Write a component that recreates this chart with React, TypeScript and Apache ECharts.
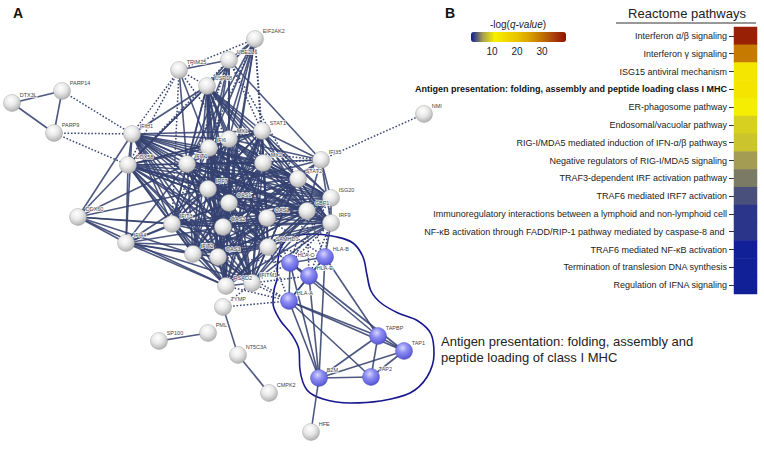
import React, { useEffect, useRef } from 'react';
import * as echarts from 'echarts';

// ---------- Panel A: STRING network ----------
// [gene, x, y, group]  group 1 = antigen presentation (class I MHC) module
const networkNodes: [string, number, number, number][] = [
  ['DTX3L', 12, 103, 0],
  ['PARP14', 62, 91, 0],
  ['PARP9', 54, 133, 0],
  ['IFIH1', 132, 134, 0],
  ['DDX58', 128, 165, 0],
  ['DDX60', 78, 217, 0],
  ['IFI44', 126, 243, 0],
  ['TRIM25', 179, 70, 0],
  ['UBE2L6', 229, 60, 0],
  ['USP18', 207, 86, 0],
  ['EIF2AK2', 255, 39, 0],
  ['STAT1', 262, 131, 0],
  ['MX1', 229, 139, 0],
  ['IFI6', 209, 148, 0],
  ['IFIT1', 187, 164, 0],
  ['MX2', 263, 163, 0],
  ['IFI35', 321, 160, 0],
  ['STAT2', 298, 179, 0],
  ['ISG20', 331, 198, 0],
  ['GBP1', 307, 211, 0],
  ['IRF9', 331, 223, 0],
  ['IRF7', 208, 189, 0],
  ['OAS1', 229, 203, 0],
  ['OASL', 267, 218, 0],
  ['OAS2', 223, 227, 0],
  ['SAMHD1', 268, 247, 0],
  ['IFIT3', 172, 224, 0],
  ['IFIT2', 193, 254, 0],
  ['OAS3', 218, 257, 0],
  ['RSAD2', 226, 286, 0],
  ['IFITM1', 252, 283, 0],
  ['TYMP', 223, 307, 0],
  ['PML', 208, 333, 0],
  ['SP100', 159, 341, 0],
  ['NT5C3A', 238, 355, 0],
  ['CMPK2', 269, 393, 0],
  ['HLA-C', 290, 263, 1],
  ['HLA-B', 325, 257, 1],
  ['HLA-E', 309, 276, 1],
  ['HLA-A', 289, 301, 1],
  ['TAPBP', 378, 336, 1],
  ['TAP1', 404, 351, 1],
  ['TAP2', 371, 377, 1],
  ['B2M', 319, 378, 1],
  ['HFE', 311, 432, 0],
  ['NMI', 424, 114, 0],
];

// densely interconnected interferon core (all pairs interact)
const coreGenes = [
  'IFI6', 'IFIT1', 'MX1', 'MX2', 'STAT2', 'GBP1', 'IRF7', 'OAS1',
  'OASL', 'OAS2', 'SAMHD1', 'IFIT3', 'IFIT2', 'OAS3', 'RSAD2', 'IFITM1',
  'STAT1', 'IRF9', 'ISG20', 'DDX58', 'IFIH1', 'USP18',
];

const solidEdges: [string, string][] = [
  ['DTX3L', 'PARP14'], ['DTX3L', 'PARP9'], ['PARP14', 'PARP9'],
  ['TRIM25', 'UBE2L6'], ['TRIM25', 'IFI6'], ['TRIM25', 'IFIT1'],
  ['UBE2L6', 'EIF2AK2'], ['UBE2L6', 'USP18'], ['UBE2L6', 'IFI35'], ['UBE2L6', 'IFIT1'], ['UBE2L6', 'IFI6'],
  ['UBE2L6', 'MX1'], ['UBE2L6', 'OAS1'], ['UBE2L6', 'IRF7'],
  ['EIF2AK2', 'IFIT1'], ['EIF2AK2', 'IFI6'], ['EIF2AK2', 'MX1'], ['EIF2AK2', 'OAS1'], ['EIF2AK2', 'IRF7'],
  ['EIF2AK2', 'DDX58'], ['EIF2AK2', 'OAS2'],
  ['IFIH1', 'DDX60'], ['IFIH1', 'IFI44'],
  ['DDX58', 'DDX60'], ['DDX58', 'IFI44'],
  ['DDX60', 'IFI44'], ['DDX60', 'IFIT3'], ['DDX60', 'IFIT1'], ['DDX60', 'IFIT2'], ['DDX60', 'RSAD2'], ['DDX60', 'OAS2'],
  ['DDX60', 'IRF7'],
  ['IFI44', 'IFIT3'], ['IFI44', 'IFIT2'], ['IFI44', 'RSAD2'], ['IFI44', 'OAS3'], ['IFI44', 'OAS2'],
  ['IFI44', 'IFIT1'], ['IFI44', 'IRF7'], ['IFI44', 'SAMHD1'], ['IFI44', 'IFITM1'], ['IFI44', 'OAS1'],
  ['IFI35', 'STAT1'], ['IFI35', 'STAT2'], ['IFI35', 'ISG20'], ['IFI35', 'IRF9'], ['IFI35', 'GBP1'], ['IFI35', 'MX1'],
  ['IFI35', 'IFIT1'], ['IFI35', 'OAS2'], ['IFI35', 'IRF7'],
  ['IRF9', 'HLA-B'],
  ['HLA-A', 'HLA-B'], ['HLA-A', 'HLA-C'], ['HLA-A', 'HLA-E'], ['HLA-B', 'HLA-C'], ['HLA-B', 'HLA-E'], ['HLA-C', 'HLA-E'],
  ['HLA-A', 'B2M'], ['HLA-A', 'TAPBP'], ['HLA-A', 'TAP1'], ['HLA-A', 'TAP2'], ['HLA-B', 'B2M'], ['HLA-B', 'TAPBP'],
  ['HLA-C', 'B2M'], ['HLA-C', 'TAPBP'], ['HLA-E', 'B2M'], ['HLA-E', 'TAP1'],
  ['B2M', 'TAPBP'], ['B2M', 'TAP1'], ['B2M', 'TAP2'], ['B2M', 'HFE'], ['TAPBP', 'TAP1'], ['TAPBP', 'TAP2'], ['TAP1', 'TAP2'],
  ['TYMP', 'NT5C3A'], ['NT5C3A', 'CMPK2'], ['PML', 'SP100'],
];

const dottedEdges: [string, string][] = [
  ['PARP14', 'IFIH1'], ['PARP9', 'IFIH1'], ['PARP9', 'DDX58'],
  ['TRIM25', 'EIF2AK2'], ['TRIM25', 'MX1'], ['TRIM25', 'IFIT3'],
  ['EIF2AK2', 'STAT1'], ['EIF2AK2', 'MX2'], ['EIF2AK2', 'USP18'], ['EIF2AK2', 'IFIT3'],
  ['UBE2L6', 'STAT1'], ['UBE2L6', 'IFIT3'], ['UBE2L6', 'DDX58'], ['UBE2L6', 'STAT2'],
  ['TRIM25', 'IFIH1'], ['TRIM25', 'USP18'], ['TRIM25', 'DDX58'],
  ['IFI35', 'NMI'], ['IFI35', 'MX2'], ['IFI35', 'OASL'], ['IFI35', 'IFI6'],
  ['ISG20', 'HLA-B'], ['ISG20', 'HLA-C'],
  ['IRF9', 'HLA-E'], ['IRF9', 'HLA-C'],
  ['HLA-B', 'GBP1'], ['HLA-B', 'SAMHD1'], ['HLA-B', 'OASL'],
  ['HLA-C', 'SAMHD1'], ['HLA-C', 'OASL'], ['HLA-C', 'IFITM1'], ['HLA-C', 'OAS3'], ['HLA-C', 'GBP1'],
  ['HLA-E', 'SAMHD1'], ['HLA-E', 'IFITM1'], ['HLA-E', 'GBP1'],
  ['HLA-A', 'RSAD2'], ['HLA-A', 'IFITM1'], ['HLA-A', 'OAS3'], ['HLA-A', 'SAMHD1'],
  ['TYMP', 'IFITM1'], ['TYMP', 'HLA-A'],
];

// outline around the antigen-presentation module (network coordinates)
const antigenOutline: [number, number][] = [
  [277, 280], [280, 250], [290, 238], [313, 234], [337, 237], [353, 243], [363, 257], [367, 275],
  [371, 291], [381, 303], [398, 313], [418, 321], [431, 334], [434, 354], [427, 377], [410, 393],
  [380, 401], [350, 403], [323, 399], [307, 390], [300, 370], [299, 350], [292, 335], [280, 320],
  [273, 303], [274, 290], [277, 280],
];

// ---------- Panel B: Reactome heatmap ----------
const pathways = [
  'Interferon α/β signaling',
  'Interferon γ signaling',
  'ISG15 antiviral mechanism',
  'Antigen presentation: folding, assembly and peptide loading class I MHC',
  'ER-phagosome pathway',
  'Endosomal/vacuolar pathway',
  'RIG-I/MDA5 mediated induction of IFN-α/β pathways',
  'Negative regulators of RIG-I/MDA5 signaling',
  'TRAF3-dependent IRF activation pathway',
  'TRAF6 mediated IRF7 activation',
  'Immunoregulatory interactions between a lymphoid and non-lymphoid cell',
  'NF-κB activation through FADD/RIP-1 pathway mediated by caspase-8 and ',
  'TRAF6 mediated NF-κB activation',
  'Termination of translesion DNA synthesis',
  'Regulation of IFNA signaling',
];
const negLogQ = [38, 29, 13, 13.5, 11, 9.2, 8.5, 6.2, 5, 3.5, 2.6, 2.6, 1.8, 1.8, 1.8];
const colorbarTicks = [10, 20, 30];
const colorMin = 1.6;
const colorMax = 39.6;

const FONT = 'Liberation Sans, Arial, Helvetica, sans-serif';

export default function App() {
  const ref = useRef<HTMLDivElement>(null);

  useEffect(() => {
    document.body.style.margin = '0';
    if (!ref.current) return;
    const chart = echarts.init(ref.current, null, { renderer: 'svg' });

    const greySphere = {
      type: 'radial', x: 0.42, y: 0.32, r: 0.72,
      colorStops: [
        { offset: 0, color: '#ffffff' },
        { offset: 0.45, color: '#e9e9e9' },
        { offset: 0.85, color: '#bdbdbd' },
        { offset: 1, color: '#9c9c9c' },
      ],
    };
    const blueSphere = {
      type: 'radial', x: 0.42, y: 0.32, r: 0.72,
      colorStops: [
        { offset: 0, color: '#d6d6ff' },
        { offset: 0.4, color: '#8c8cf2' },
        { offset: 0.85, color: '#5f5fdc' },
        { offset: 1, color: '#4444b4' },
      ],
    };

    const nodeData = networkNodes.map(([name, x, y, g]) => ({
      name,
      value: [x, y],
      itemStyle: { color: g === 1 ? blueSphere : greySphere, borderColor: g === 1 ? '#4a4ab0' : '#9a9a9a', borderWidth: 0.4 },
    }));

    const seen = new Set<string>();
    const links: any[] = [];
    const addLink = (a: string, b: string, dotted: boolean) => {
      const k = a < b ? a + '|' + b : b + '|' + a;
      if (seen.has(k)) return;
      seen.add(k);
      links.push({
        source: a,
        target: b,
        lineStyle: dotted
          ? { type: [1.6, 1.8], width: 1.5, color: '#2f3d6e', opacity: 0.95 }
          : { type: 'solid', width: 1.6, color: '#34416f', opacity: 0.88 },
      });
    };
    dottedEdges.forEach(([a, b]) => addLink(a, b, true));
    for (let i = 0; i < coreGenes.length; i++)
      for (let j = i + 1; j < coreGenes.length; j++) addLink(coreGenes[i], coreGenes[j], false);
    solidEdges.forEach(([a, b]) => addLink(a, b, false));

    const option: any = {
      animation: false,
      textStyle: { fontFamily: FONT },
      grid: [
        { left: 0, top: 0, width: 764, height: 450 },
        { left: 734, top: 27, width: 23, height: 267 },
        { left: 471, top: 32, width: 95, height: 10 },
      ],
      xAxis: [
        { type: 'value', gridIndex: 0, min: 0, max: 764, show: false },
        { type: 'category', gridIndex: 1, data: ['q'], show: false },
        {
          type: 'value', gridIndex: 2, min: colorMin, max: colorMax, position: 'bottom',
          axisLine: { show: false },
          splitLine: { show: false },
          axisTick: { show: true, inside: true, length: 3, customValues: colorbarTicks, lineStyle: { color: '#333', width: 1 } },
          axisLabel: { customValues: colorbarTicks, fontSize: 10, color: '#222', margin: 4, fontFamily: FONT },
        },
      ],
      yAxis: [
        { type: 'value', gridIndex: 0, min: 0, max: 450, inverse: true, show: false },
        {
          type: 'category', gridIndex: 1, data: pathways, inverse: true,
          axisLine: { show: false },
          axisTick: { show: true, alignWithLabel: true, length: 5, lineStyle: { color: '#333', width: 1 } },
          axisLabel: {
            fontSize: 9, color: '#222', margin: 7, fontFamily: FONT,
            formatter: (v: string) => (v.startsWith('Antigen presentation') ? '{b|' + v + '}' : v),
            rich: { b: { fontWeight: 'bold', fontSize: 9, color: '#111', fontFamily: FONT } },
          },
        },
        { type: 'value', gridIndex: 2, min: 0, max: 1, show: false },
      ],
      visualMap: {
        type: 'continuous',
        seriesIndex: 2,
        min: colorMin,
        max: colorMax,
        orient: 'horizontal',
        left: 471,
        top: 32,
        itemWidth: 10,
        itemHeight: 95,
        padding: 0,
        calculable: false,
        hoverLink: false,
        text: null,
        inRange: {
          color: ['#0a1a9a', '#a8a050', '#f8f000', '#f0d800', '#e8c000', '#d89e00', '#c07000', '#a84010', '#901000'],
        },
      },
      graphic: [
        { type: 'text', left: 13, top: 6, style: { text: 'A', font: 'bold 14px ' + FONT, fill: '#111' } },
        { type: 'text', left: 445, top: 6, style: { text: 'B', font: 'bold 14px ' + FONT, fill: '#111' } },
        {
          type: 'text', x: 518, y: 24,
          style: {
            text: '-log({i|q-value})', fontSize: 10, fontFamily: FONT, fill: '#222',
            align: 'center', verticalAlign: 'middle',
            rich: { i: { fontStyle: 'italic', fontSize: 10, fontFamily: FONT, fill: '#222' } },
          },
        },
        {
          type: 'text', x: 687, y: 13,
          style: { text: 'Reactome pathways', fontSize: 13, fontFamily: FONT, fill: '#222', align: 'center', verticalAlign: 'middle' },
        },
        { type: 'line', shape: { x1: 616, y1: 23, x2: 756, y2: 23 }, style: { stroke: '#333', lineWidth: 1.2 } },
        {
          type: 'text', x: 441, y: 333,
          style: {
            text: 'Antigen presentation: folding, assembly and\npeptide loading of class I MHC',
            fontSize: 13, lineHeight: 16, fontFamily: FONT, fill: '#222',
          },
        },
      ],
      series: [
        {
          type: 'line',
          xAxisIndex: 0,
          yAxisIndex: 0,
          data: antigenOutline,
          smooth: 0.35,
          symbol: 'none',
          silent: true,
          z: 1,
          lineStyle: { color: '#17178f', width: 1.6 },
        },
        {
          type: 'graph',
          coordinateSystem: 'cartesian2d',
          xAxisIndex: 0,
          yAxisIndex: 0,
          layout: 'none',
          z: 2,
          symbol: 'circle',
          symbolSize: 17,
          data: nodeData,
          links,
          silent: true,
          label: {
            show: true,
            position: 'right',
            distance: 0,
            offset: [-1, -8],
            fontSize: 5.5,
            color: '#444',
            fontFamily: FONT,
            textBorderColor: 'rgba(255,255,255,0.85)',
            textBorderWidth: 1.5,
          },
          emphasis: { disabled: true },
        },
        {
          type: 'heatmap',
          xAxisIndex: 1,
          yAxisIndex: 1,
          data: negLogQ.map((v, i) => [0, i, v]),
          silent: true,
        },
      ],
    };

    chart.setOption(option);
    return () => chart.dispose();
  }, []);

  return <div ref={ref} style={{ width: 764, height: 450 }} />;
}
